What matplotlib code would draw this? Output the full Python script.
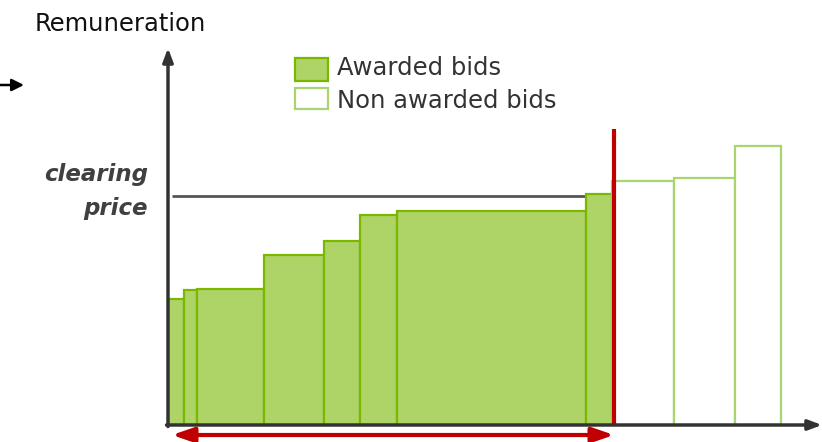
import matplotlib
matplotlib.use("Agg")
import matplotlib.pyplot as plt
from matplotlib.patches import Rectangle, FancyArrowPatch

# bid quantities (widths) and prices (heights), in chart units
awarded_widths = [16, 13, 67, 60, 36, 37, 189, 26]
awarded_prices = [126, 135, 136, 170, 184, 210, 214, 231]
non_awarded_widths = [62, 61, 46]
non_awarded_prices = [244, 247, 279]
clearing_price = 229

FILL = "#aed366"
EDGE = "#7ab800"
EDGE_LIGHT = "#a9d46f"
RED = "#c00000"
AXIS = "#333333"

W, H = 822, 442
fig = plt.figure(figsize=(W / 100, H / 100), dpi=100)
ax = fig.add_axes([168 / W, 17 / H, 654 / W, 377 / H])
ax.set_xlim(0, 654)
ax.set_ylim(0, 377)
ax.axis("off")

# awarded bids
x = 0
for w, p in zip(awarded_widths, awarded_prices):
    ax.add_patch(Rectangle((x, 0), w, p, facecolor=FILL, edgecolor=EDGE, lw=1.6, zorder=2))
    x += w
cut = x + 2

# non awarded bids
for w, p in zip(non_awarded_widths, non_awarded_prices):
    ax.add_patch(Rectangle((x, 0), w, p, facecolor="white", edgecolor=EDGE_LIGHT, lw=1.6, zorder=2))
    x += w

# clearing price line
ax.plot([4, sum(awarded_widths[:-1]) + 20], [clearing_price, clearing_price],
        color="#555555", lw=2, zorder=1, solid_capstyle="butt")

# red cut line
ax.plot([cut, cut], [0, 296], color=RED, lw=3, zorder=3, solid_capstyle="butt")

# axes with arrows
ax.annotate("", xy=(0, 377), xytext=(0, -1.5),
            arrowprops=dict(arrowstyle="-|>,head_width=0.3,head_length=0.8",
                            color=AXIS, lw=2.5, shrinkA=0, shrinkB=0),
            annotation_clip=False, zorder=4)
ax.annotate("", xy=(654, 0), xytext=(-1.5, 0),
            arrowprops=dict(arrowstyle="-|>,head_width=0.3,head_length=0.8",
                            color=AXIS, lw=2.5, shrinkA=0, shrinkB=0),
            annotation_clip=False, zorder=4)

# awarded volume double arrow
ax.annotate("", xy=(4, -10), xytext=(cut, -10),
            arrowprops=dict(arrowstyle="<|-|>,head_width=0.45,head_length=1.3",
                            color=RED, lw=3, shrinkA=0, shrinkB=0),
            annotation_clip=False, zorder=4)

# texts
fig.text(35 / W, 1 - 24 / H, "Remuneration", fontsize=17.5, color="#111111",
         ha="left", va="center")
fig.text(148 / W, 1 - 175 / H, "clearing", fontsize=16.5, fontweight="bold",
         style="italic", color="#404040", ha="right", va="center")
fig.text(148 / W, 1 - 208 / H, "price", fontsize=16.5, fontweight="bold",
         style="italic", color="#404040", ha="right", va="center")

# legend
fig.patches.append(Rectangle((295 / W, 1 - 81 / H), 33 / W, 23 / H, transform=fig.transFigure,
                             facecolor=FILL, edgecolor=EDGE, lw=1.6))
fig.patches.append(Rectangle((295 / W, 1 - 109 / H), 33 / W, 21 / H, transform=fig.transFigure,
                             facecolor="white", edgecolor=EDGE_LIGHT, lw=1.6))
fig.text(337 / W, 1 - 68 / H, "Awarded bids", fontsize=17.5, color="#333333",
         ha="left", va="center")
fig.text(337 / W, 1 - 101 / H, "Non awarded bids", fontsize=17.5, color="#333333",
         ha="left", va="center")

# small arrow at left edge
fig.patches.append(FancyArrowPatch(
    (0, 1 - 85 / H), (24 / W, 1 - 85 / H), transform=fig.transFigure,
    arrowstyle="-|>,head_width=0.3,head_length=0.6", color="black", lw=1.8,
    mutation_scale=12, shrinkA=0, shrinkB=0))

fig.savefig("out.png", dpi=100)
